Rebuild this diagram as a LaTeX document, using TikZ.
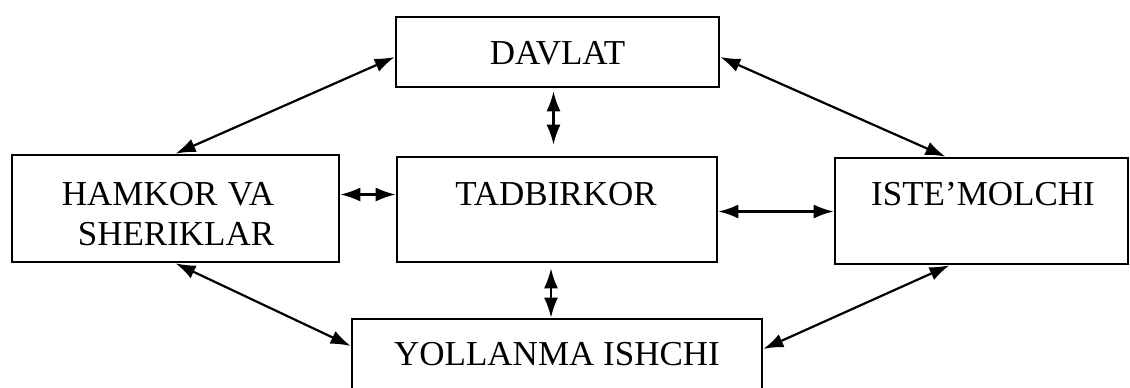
\documentclass[tikz,border=0pt]{standalone}
\usepackage{fontspec}
\setmainfont{Liberation Serif}
\usetikzlibrary{arrows.meta}
\tikzset{
  box/.style={draw=black, line width=2.6pt, rectangle, inner sep=0pt},
  txt/.style={font=\fontsize{35}{40}\selectfont, inner sep=0pt, anchor=base},
  arr/.style={line width=2.2pt, {Latex[length=20pt,width=14pt]}-{Latex[length=20pt,width=14pt]}}
}
\begin{document}
\begin{tikzpicture}[x=1pt,y=-1pt]
\useasboundingbox (0,0) rectangle (1130,388);
\clip (0,0) rectangle (1130,388);
% boxes
\node[box, minimum width=323pt, minimum height=70pt] (dav) at (557.5,52) {};
\node[box, minimum width=327pt, minimum height=107pt] (ham) at (175.5,208.5) {};
\node[box, minimum width=320pt, minimum height=105pt] (tad) at (557,209.5) {};
\node[box, minimum width=293pt, minimum height=106pt] (ist) at (981.5,211) {};
\node[box, minimum width=410pt, minimum height=84pt] (yol) at (557,361) {};
% texts
\node[txt] (tdav) at (557.5,64) {DAVLAT};
\node[txt] (tham1) at (168,205) {HAMKOR\hspace{0.3em}VA};
\node[txt] (tham2) at (176,245) {SHERIKLAR};
\node[txt] (ttad) at (556,205) {TADBIRKOR};
\node[txt] (tist) at (983,205) {ISTE'MOLCHI};
\node[txt] (tyol) at (557,365) {YOLLANMA ISHCHI};
% connectors
\draw[arr] ([yshift=-5pt]dav.west) -- (ham.north);
\draw[arr] ([yshift=-5pt]dav.east) -- ([xshift=-36pt]ist.north);
\draw[arr, shorten <=3pt, shorten >=11pt] ([xshift=-4pt]dav.south) -- ([xshift=-4pt]dav.south |- tad.north);
\draw[arr] ([yshift=14pt]ham.east) -- ([yshift=14pt]ham.east -| tad.west);
\draw[arr] ([yshift=-2pt]tad.east) -- ([yshift=-2pt]tad.east -| ist.west);
\draw[arr, shorten <=5pt] ([xshift=-6pt]tad.south) -- ([xshift=-6pt]tad.south |- yol.north);
\draw[arr] (ham.south) -- ([yshift=15pt]yol.west);
\draw[arr] ([xshift=-32pt]ist.south) -- ([yshift=12pt]yol.east);
\end{tikzpicture}
\end{document}
